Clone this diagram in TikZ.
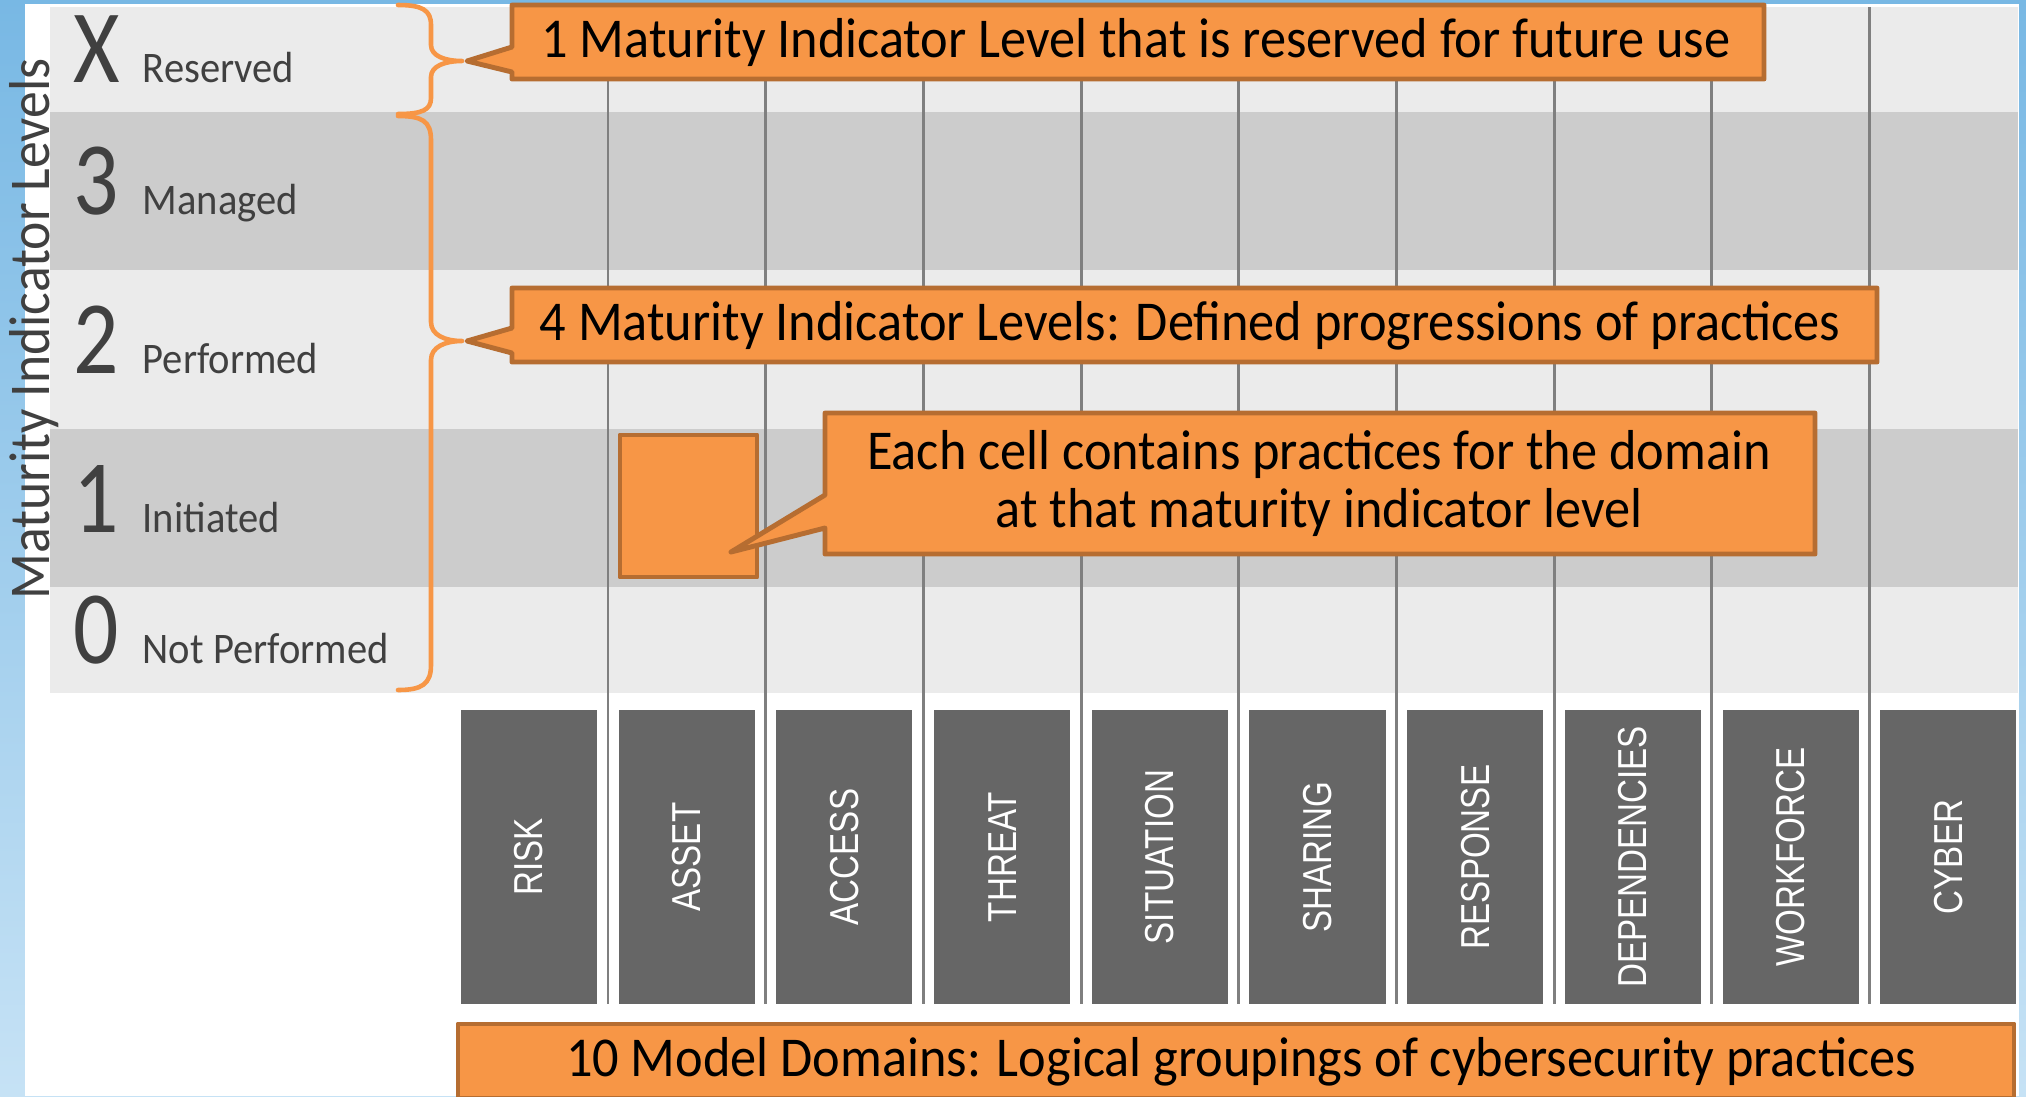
\documentclass[tikz,border=0pt]{standalone}
\usepackage{fontspec}
\setmainfont{Carlito}[FakeStretch=0.93]
\newfontfamily\numfont{Carlito}[FakeStretch=0.86]
\newfontfamily\domfont{Liberation Sans}[FakeStretch=0.82]
\usepackage{tikz}
\definecolor{calloutfill}{HTML}{F79646}
\definecolor{calloutedge}{HTML}{B66D31}
\definecolor{bandlight}{HTML}{EBEBEB}
\definecolor{banddark}{HTML}{CCCCCC}
\definecolor{gridline}{HTML}{7F7F7F}
\definecolor{domaingray}{HTML}{666666}
\definecolor{labelgray}{HTML}{404040}
\definecolor{bgtop}{HTML}{78B8E4}
\definecolor{bgbot}{HTML}{C6E2F5}
\tikzstyle{calloutshape} = [fill=calloutfill, draw=calloutedge, line width=1.4pt, line join=round]
\tikzstyle{notetext} = [anchor=base, inner sep=0pt, font=\fontsize{16}{16.5}\selectfont]
\tikzstyle{lvltext} = [anchor=base west, inner sep=0pt, text=labelgray]
\tikzstyle{domainbox} = [rectangle, fill=domaingray, text=white, rotate=90, 
    minimum width=2.94cm, minimum height=1.36cm, inner sep=0pt, font=\domfont\fontsize{11.5}{12}\selectfont]
\tikzstyle{bracestroke} = [draw=calloutfill, line width=1.3pt, line cap=round, line join=round]

\begin{document}
\begin{tikzpicture}[x=0.01cm, y=-0.01cm]
\useasboundingbox (0,0) rectangle (2026,1096);
\clip (0,0) rectangle (2026,1096);
            % Background
        \shade[top color=bgtop, bottom color=bgbot] (0,0) rectangle (2026,1096);
        \fill[white] (25,4) rectangle (2019,1096);
        \foreach \ya/\yb/\bandcol in {7/112/bandlight, 112/270/banddark, 270/429/bandlight, 429/587/banddark, 587/693/bandlight}
            \fill[\bandcol] (50,\ya) rectangle (2018,\yb);
        \foreach \i in {0,...,8}
            \draw[gridline, line width=0.85pt] ({608+157.7*\i},7) -- ({608+157.7*\i},1004);
            % Levels
        \node[rotate=90, anchor=base, inner sep=0pt, text=labelgray, font=\fontsize{16.4}{17}\selectfont] (title) at (50,329) {Maturity Indicator Levels};
        \foreach \yb/\num/\name in {82/X/Reserved, 214/3/Managed, 373/2/Performed, 532/1/Initiated, 663/0/Not Performed} {
            \node[lvltext, font=\numfont\fontsize{29.6}{30}\selectfont] (num\num) at (73,\yb) {\num};
            \node[lvltext, font=\fontsize{12.4}{13}\selectfont] (lvl\num) at (142,\yb) {\name};
        }
            % Braces
        \draw[bracestroke] (398,5) .. controls (422,5) and (431,10) .. (431,25) -- (431,45) .. controls (431,56) and (445,61) .. (462,61)
            .. controls (445,61) and (431,66) .. (431,77) -- (431,98) .. controls (431,110) and (422,114) .. (398,114);
        \draw[bracestroke] (398,116) .. controls (422,116) and (431,121) .. (431,140) -- (431,322) .. controls (431,335) and (445,341) .. (462,341)
            .. controls (445,341) and (431,347) .. (431,360) -- (431,665) .. controls (431,684) and (422,690) .. (398,690);
            % Domains
        \foreach \name [count=\i from 0] in {RISK, ASSET, ACCESS, THREAT, SITUATION, SHARING, RESPONSE, DEPENDENCIES, WORKFORCE, CYBER}
            \node[domainbox] (dom\i) at ({529+157.7*\i},857) {\name};
            % Callouts
        \filldraw[calloutshape] (512,5) -- (1764,5) -- (1764,79) -- (512,79) -- (512,72) -- (467,61) -- (512,47) -- cycle;
        \node[notetext] (futurelvl) at (1136,57) {1 Maturity Indicator Level that is reserved for future use};
        \filldraw[calloutshape] (512,288) -- (1877,288) -- (1877,362) -- (512,362) -- (512,353) -- (467,341) -- (512,328) -- cycle;
        \node[notetext] (milnote) at (1190,340) {4 Maturity Indicator Levels: Defined progressions of practices};
        \filldraw[calloutshape] (620,435) rectangle (757,577);
        \filldraw[calloutshape] (825,413) -- (1815,413) -- (1815,554) -- (825,554) -- (825,528) -- (731,552) -- (825,495) -- cycle;
        \node[notetext, align=center, anchor=center] (cellnote) at (1319,483) {Each cell contains practices for the domain\\at that maturity indicator level};
        \filldraw[calloutshape] (458,1024) rectangle (2014,1098);
        \node[notetext] (domnote) at (1241,1076) {10 Model Domains: Logical groupings of cybersecurity practices};
\end{tikzpicture}
\end{document}
